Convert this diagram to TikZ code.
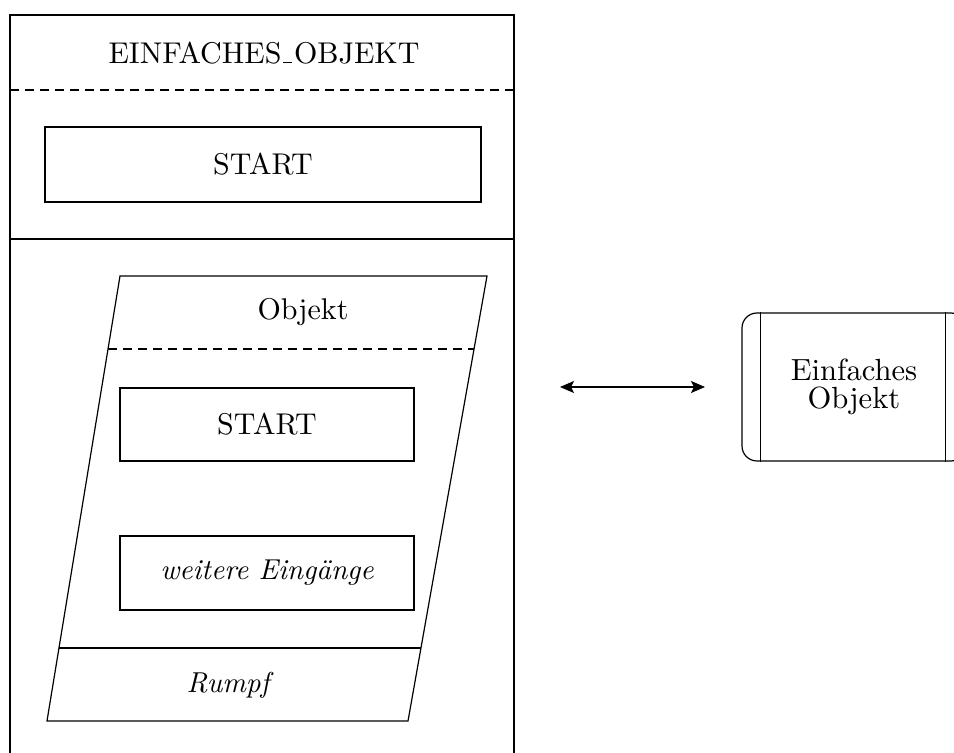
\documentclass[tikz,border=0pt]{standalone}
\usepackage{fontspec}
\setmainfont{lmroman10-regular}[Extension=.otf,ItalicFont=lmroman10-italic]
\usetikzlibrary{arrows.meta,calc}
% low, short underscore rule
\newcommand\lowbar{\kern.06em\rule{.3em}{.045em}\kern.06em}
\begin{document}
\begin{tikzpicture}[x=0.5pt,y=-0.5pt,
  frame/.style={draw,line width=0.6pt},
  sepline/.style={line width=0.6pt,dash pattern=on 4.5pt off 3pt},
  lbl/.style={font=\fontsize{15}{14}\selectfont,inner sep=0pt},
  box/.style={draw,line width=0.6pt,font=\fontsize{15}{14}\selectfont,inner sep=0pt},
  slanted/.style={font=\fontsize{14.4}{14}\selectfont\itshape},
  twoway/.style={line width=0.6pt,{Stealth[length=7pt,width=6pt,inset=1.5pt]}-{Stealth[length=7pt,width=6pt,inset=1.5pt]}}]
\useasboundingbox (0,0) rectangle (954,753);
\clip (0,0) rectangle (954,753);

% class frame with header and start section
\draw[frame] (10,15) rectangle (514,800);
\node[lbl] (title) at (264,53) {EINFACHES\lowbar OBJEKT};
\draw[sepline] (10,90) -- (514,90);
\node[box,minimum width=218pt,minimum height=37.5pt] (start1) at (263,164.5) {START};
\draw[frame] (10,239) -- (514,239);

% object parallelogram
\coordinate (pTL) at (120,276);
\coordinate (pTR) at (487,276);
\coordinate (pBR) at (408,721);
\coordinate (pBL) at (47,721);
\draw[frame] (pTL) -- (pTR) -- (pBR) -- (pBL) -- cycle;
\node[lbl] (objekt) at (303,312) {Objekt};
\draw[sepline] ($(pTL)!0.164!(pBL)$) -- ($(pTR)!0.164!(pBR)$);
\node[box,minimum width=147pt,minimum height=36.5pt] (start2) at (267,424.5) {START};
\node[box,slanted,minimum width=147pt,minimum height=37pt] (weitere) at (267,573) {weitere Eingänge};
\draw[frame] ($(pTL)!0.836!(pBL)$) -- ($(pTR)!0.836!(pBR)$);
\node[lbl,slanted] (rumpf) at (228,685) {Rumpf};

% symbol on the right
\node[box,align=center,minimum width=112pt,minimum height=74pt,rounded corners=7.5pt,font=\fontsize{15.3}{14}\selectfont] (einf) at (854,387) {Einfaches\\Objekt};
\draw[frame] ($(einf.north west)+(19,0)$) -- ($(einf.south west)+(19,0)$);
\draw[frame] ($(einf.north east)+(-21,0)$) -- ($(einf.south east)+(-21,0)$);

% equivalence arrow
\coordinate (arrL) at (560,387);
\coordinate (arrR) at (705,387);
\draw[twoway] (arrL) -- (arrR);
\end{tikzpicture}
\end{document}
